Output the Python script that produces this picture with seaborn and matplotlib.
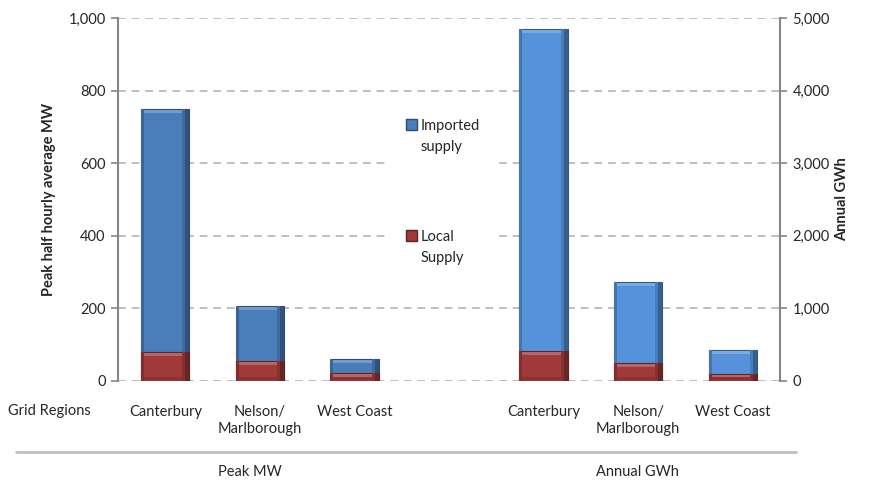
import numpy as np
import pandas as pd
import matplotlib
matplotlib.use("Agg")
import matplotlib.pyplot as plt
import seaborn as sns
from matplotlib.patches import Rectangle, Patch
from matplotlib.lines import Line2D
from matplotlib.ticker import FuncFormatter, FixedLocator, FixedFormatter
from matplotlib.legend_handler import HandlerPatch
from matplotlib.colors import to_rgb

# ---- data ----
regions = ["Canterbury", "Nelson/\nMarlborough", "West Coast"]
peak_local = [80, 55, 22]          # MW
peak_imported = [670, 152, 38]     # MW
annual_local = [420, 250, 100]     # GWh
annual_imported = [4430, 1120, 330]  # GWh
group_labels = ["Peak MW", "Annual GWh"]
series_labels = ["Imported\nsupply", "Local\nSupply"]
left_ticks = [0, 200, 400, 600, 800, 1000]
right_ticks = [0, 1000, 2000, 3000, 4000, 5000]

# ---- styling ----
FONT = "Lato"
sns.set_theme(style="white")
plt.rcParams["font.family"] = [FONT, "DejaVu Sans"]
TXT = "#262626"
GRID = "#BFBFBF"
SPINE = "#868686"
BLUE_PEAK = "#4A7EBB"
BLUE_ANNUAL = "#5592DB"
RED = "#A0393A"
FS = 10.5

slots = ["P0", "P1", "P2", "gap", "A0", "A1", "A2"]
peak_df = pd.DataFrame({
    "slot": slots[:3],
    "local": peak_local,
    "total": np.add(peak_local, peak_imported),
})
annual_df = pd.DataFrame({
    "slot": slots[4:],
    "local": annual_local,
    "total": np.add(annual_local, annual_imported),
})

fig = plt.figure(figsize=(8.72, 4.88), dpi=100)
ax = fig.add_axes([118 / 872, 1 - 381 / 488, (780 - 118) / 872, (381 - 18) / 488])
ax2 = ax.twinx()

BW = 0.51
sns.barplot(data=peak_df, x="slot", y="total", order=slots, color=BLUE_PEAK,
            width=BW, saturation=1, ax=ax, zorder=2)
sns.barplot(data=peak_df, x="slot", y="local", order=slots, color=RED,
            width=BW, saturation=1, ax=ax, zorder=3)
sns.barplot(data=annual_df, x="slot", y="total", order=slots, color=BLUE_ANNUAL,
            width=BW, saturation=1, ax=ax2, zorder=2)
sns.barplot(data=annual_df, x="slot", y="local", order=slots, color=RED,
            width=BW, saturation=1, ax=ax2, zorder=3)

for a, ticks in ((ax, left_ticks), (ax2, right_ticks)):
    a.set_xlim(-0.5, len(slots) - 0.5)
    a.set_ylim(ticks[0], ticks[-1])
    a.set_yticks(ticks)
    a.yaxis.set_major_formatter(FuncFormatter(lambda v, p: f"{v:,.0f}"))
    a.set_xlabel("")
    a.set_ylabel("")
    for s in ("top", "bottom"):
        a.spines[s].set_visible(False)

ax.spines["right"].set_visible(False)
ax2.spines["left"].set_visible(False)
ax.spines["left"].set_color(SPINE)
ax.spines["left"].set_linewidth(1.5)
ax2.spines["right"].set_color(SPINE)
ax2.spines["right"].set_linewidth(1.5)

ax.grid(axis="y", color=GRID, linestyle=(0, (4, 3)), linewidth=1.4)
ax.set_axisbelow(True)
ax.tick_params(axis="y", left=True, length=5, width=1.2, color=SPINE, pad=4,
               labelsize=FS, labelcolor=TXT)
ax2.tick_params(axis="y", right=True, length=5, width=1.2, color=SPINE, pad=4,
                labelsize=FS, labelcolor=TXT)

# category labels under the bars (shared x axis)
xlabels = regions + [""] + regions
ax.xaxis.set_major_locator(FixedLocator(range(len(slots))))
ax.xaxis.set_major_formatter(FixedFormatter(xlabels))
ax.tick_params(axis="x", bottom=True, labelbottom=True, length=0, pad=17,
               labelsize=FS, labelcolor=TXT)
for t in ax.get_xticklabels():
    t.set_linespacing(1.35)

ax.set_ylabel("Peak half hourly average MW", fontsize=FS, fontweight="bold",
              color=TXT, labelpad=9)
ax2.set_ylabel("Annual GWh", fontsize=FS, fontweight="bold", color=TXT,
               labelpad=4)


# bevelled look on the bars
def shade(c, f):
    r, g, b = to_rgb(c)
    if f >= 0:
        return (r + (1 - r) * f, g + (1 - g) * f, b + (1 - b) * f)
    return (r * (1 + f), g * (1 + f), b * (1 + f))


def bevel(a):
    inv = a.transData.inverted()
    bars = [p for p in a.patches if isinstance(p, Rectangle) and p.get_height() > 0]
    for p in bars:
        fc = p.get_facecolor()
        p.set_edgecolor(shade(fc, -0.4))
        p.set_linewidth(0.8)
        x0, y0 = a.transData.transform((p.get_x(), p.get_y()))
        x1, y1 = a.transData.transform((p.get_x() + p.get_width(),
                                        p.get_y() + p.get_height()))
        strips = [
            (x1 - 7, y0, 3, y1 - y0, shade(fc, -0.15)),
            (x1 - 4, y0, 4, y1 - y0, shade(fc, -0.35)),
            (x0, y0, 3, y1 - y0, shade(fc, -0.2)),
            (x0 + 3, y1 - 4, x1 - x0 - 10, 3, shade(fc, 0.22)),
            (x0 + 3, y0 + 1, x1 - x0 - 10, 3, shade(fc, -0.12)),
        ]
        for sx, sy, sw, sh, col in strips:
            (dx0, dy0) = inv.transform((sx, sy))
            (dx1, dy1) = inv.transform((sx + sw, sy + sh))
            a.add_patch(Rectangle((dx0, dy0), dx1 - dx0, dy1 - dy0,
                                  facecolor=col, edgecolor="none",
                                  zorder=p.get_zorder() + 0.5))


bevel(ax)
bevel(ax2)


# legend: square marker level with the first line of each two-line label
def raised_square(legend, orig_handle, xdescent, ydescent, width, height, fontsize):
    return Rectangle((-xdescent, -ydescent + 0.85 * fontsize), width, height)


handles = [Patch(facecolor=BLUE_PEAK, edgecolor=shade(BLUE_PEAK, -0.4)),
           Patch(facecolor=RED, edgecolor=shade(RED, -0.4))]
leg = ax2.legend(handles, series_labels, loc="center",
                 bbox_to_anchor=(443 / 872, 1 - 192 / 488),
                 bbox_transform=fig.transFigure, frameon=True, fancybox=False,
                 framealpha=1, facecolor="white", edgecolor="none",
                 fontsize=FS, labelspacing=5.2, handlelength=0.75,
                 handleheight=0.75, handletextpad=0.3, borderpad=1.1,
                 borderaxespad=0,
                 handler_map={Patch: HandlerPatch(patch_func=raised_square)})
for t in leg.get_texts():
    t.set_color(TXT)
    t.set_linespacing(1.65)

# table-style labels beneath the axis
fig.text(8 / 872, 1 - 411 / 488, "Grid Regions", fontsize=FS, color=TXT,
         ha="left", va="center")
fig.add_artist(Line2D([16 / 872, 796 / 872], [1 - 452 / 488, 1 - 452 / 488],
                      color=GRID, linewidth=2, transform=fig.transFigure))
# group captions start under the middle category of each group
for lbl, xc in zip(group_labels, (1.0, 5.0)):
    xf = fig.transFigure.inverted().transform(ax.transData.transform((xc, 0)))[0]
    fig.text(xf - 42 / 872, 1 - 472 / 488, lbl, fontsize=FS, color=TXT,
             ha="left", va="center")

fig.savefig("out.png", dpi=100, facecolor="white")
